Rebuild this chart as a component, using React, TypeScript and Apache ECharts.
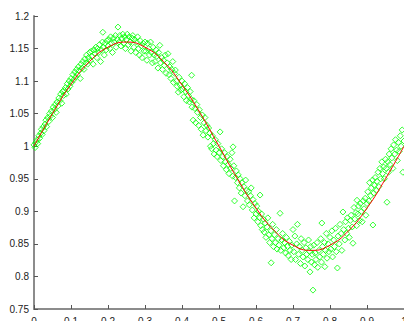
import React, { useEffect, useRef } from "react";
import * as echarts from "echarts";

const xTicks = { min: 0, max: 1, interval: 0.1 };
const yTicks = { min: 0.75, max: 1.2, interval: 0.05 };

const fitX = [0, 0.05, 0.1, 0.15, 0.2, 0.25, 0.3, 0.35, 0.4, 0.45, 0.5, 0.55, 0.6, 0.65, 0.7, 0.75, 0.8, 0.85, 0.9, 0.95, 1.0];
const fitY = [1.0, 1.05, 1.095, 1.13, 1.152, 1.16, 1.152, 1.13, 1.094, 1.05, 1.0, 0.95, 0.905, 0.87, 0.848, 0.84, 0.848, 0.87, 0.905, 0.95, 1.0];

const samples: [number, number][] = [
  [0.000,1.002],[0.003,0.998],[0.005,1.006],[0.008,1.010],[0.010,1.004],[0.013,1.016],[0.015,1.012],[0.018,1.020],[0.020,1.026],[0.022,1.018],[0.025,1.030],[0.027,1.024],[0.030,1.034],[0.032,1.040],[0.034,1.030],[0.037,1.044],[0.040,1.038],[0.042,1.050],[0.044,1.046],[0.047,1.054],[0.050,1.044],[0.052,1.060],[0.055,1.056],[0.057,1.064],[0.060,1.052],[0.062,1.068],[0.065,1.062],[0.067,1.074],[0.070,1.070],[0.072,1.080],[0.075,1.066],[0.077,1.084],[0.080,1.078],[0.082,1.086],[0.085,1.090],[0.087,1.080],[0.090,1.096],[0.092,1.088],[0.095,1.100],[0.097,1.092],[0.100,1.104],
  [0.102,1.098],[0.105,1.110],[0.107,1.102],[0.110,1.114],[0.112,1.106],[0.115,1.118],[0.117,1.110],[0.120,1.122],[0.122,1.116],[0.125,1.104],[0.127,1.126],[0.130,1.120],[0.132,1.130],[0.135,1.118],[0.137,1.134],[0.140,1.128],[0.142,1.140],[0.145,1.126],[0.147,1.136],[0.150,1.144],[0.152,1.132],[0.155,1.146],[0.157,1.138],[0.160,1.126],[0.162,1.148],[0.165,1.142],[0.167,1.152],[0.170,1.136],[0.172,1.150],[0.175,1.144],[0.177,1.156],[0.180,1.130],[0.182,1.148],[0.185,1.160],[0.186,1.175],[0.188,1.152],[0.190,1.140],[0.192,1.158],[0.195,1.148],[0.197,1.162],[0.200,1.154],
  [0.202,1.164],[0.205,1.150],[0.207,1.168],[0.210,1.158],[0.212,1.144],[0.215,1.166],[0.217,1.160],[0.220,1.170],[0.222,1.152],[0.225,1.164],[0.227,1.183],[0.230,1.160],[0.232,1.170],[0.235,1.154],[0.237,1.166],[0.240,1.172],[0.242,1.158],[0.245,1.168],[0.247,1.150],[0.250,1.164],[0.252,1.172],[0.255,1.156],[0.257,1.168],[0.260,1.160],[0.262,1.146],[0.265,1.166],[0.267,1.170],[0.270,1.152],[0.272,1.164],[0.275,1.144],[0.277,1.160],[0.280,1.168],[0.282,1.150],[0.285,1.140],[0.287,1.162],[0.290,1.154],[0.292,1.136],[0.295,1.158],[0.297,1.146],[0.300,1.160],
  [0.302,1.146],[0.305,1.132],[0.307,1.158],[0.310,1.150],[0.312,1.140],[0.315,1.160],[0.317,1.144],[0.320,1.128],[0.322,1.152],[0.325,1.140],[0.327,1.130],[0.330,1.148],[0.332,1.138],[0.335,1.120],[0.337,1.144],[0.340,1.155],[0.342,1.128],[0.345,1.136],[0.347,1.118],[0.350,1.132],[0.352,1.124],[0.355,1.140],[0.357,1.112],[0.360,1.128],[0.362,1.142],[0.365,1.110],[0.367,1.122],[0.370,1.104],[0.372,1.118],[0.375,1.130],[0.377,1.098],[0.380,1.112],[0.382,1.117],[0.385,1.100],[0.387,1.092],[0.390,1.083],[0.392,1.106],[0.395,1.094],[0.397,1.086],[0.400,1.100],
  [0.402,1.088],[0.405,1.076],[0.407,1.096],[0.410,1.084],[0.412,1.070],[0.415,1.090],[0.417,1.078],[0.420,1.068],[0.422,1.084],[0.425,1.072],[0.426,1.109],[0.427,1.060],[0.430,1.040],[0.432,1.070],[0.435,1.058],[0.437,1.036],[0.440,1.064],[0.442,1.052],[0.445,1.032],[0.447,1.056],[0.450,1.044],[0.452,1.026],[0.455,1.048],[0.457,1.017],[0.460,1.036],[0.462,1.044],[0.465,1.024],[0.467,1.032],[0.470,1.014],[0.472,1.028],[0.475,1.020],[0.477,1.000],[0.480,0.996],[0.482,1.016],[0.485,1.004],[0.487,0.988],[0.490,1.010],[0.492,0.994],[0.495,0.984],[0.497,1.004],[0.500,0.990],[0.503,1.022],
  [0.505,0.978],[0.507,0.996],[0.510,0.984],[0.512,0.970],[0.515,0.990],[0.517,0.976],[0.520,0.964],[0.522,0.984],[0.525,0.972],[0.527,0.958],[0.530,0.980],[0.532,0.966],[0.535,0.990],[0.537,0.954],[0.538,0.999],[0.540,0.970],[0.542,0.916],[0.545,0.952],[0.547,0.962],[0.550,0.944],[0.552,0.956],[0.555,0.936],[0.557,0.950],[0.560,0.928],[0.562,0.944],[0.565,0.907],[0.567,0.938],[0.570,0.924],[0.572,0.948],[0.575,0.932],[0.577,0.916],[0.580,0.930],[0.582,0.910],[0.585,0.924],[0.587,0.936],[0.590,0.902],[0.592,0.918],[0.595,0.890],[0.597,0.912],[0.600,0.896],
  [0.602,0.908],[0.605,0.884],[0.607,0.900],[0.610,0.890],[0.611,0.925],[0.613,0.878],[0.615,0.896],[0.617,0.872],[0.620,0.888],[0.622,0.868],[0.625,0.882],[0.627,0.860],[0.630,0.876],[0.632,0.890],[0.635,0.864],[0.637,0.852],[0.640,0.870],[0.641,0.821],[0.643,0.858],[0.645,0.880],[0.647,0.846],[0.650,0.864],[0.652,0.852],[0.655,0.872],[0.657,0.842],[0.660,0.858],[0.662,0.848],[0.665,0.897],[0.667,0.840],[0.670,0.856],[0.672,0.866],[0.675,0.844],[0.677,0.852],[0.680,0.836],[0.682,0.860],[0.685,0.846],[0.687,0.832],[0.690,0.854],[0.692,0.840],[0.695,0.826],[0.697,0.848],[0.700,0.872],
  [0.702,0.838],[0.705,0.862],[0.707,0.826],[0.710,0.850],[0.712,0.880],[0.715,0.834],[0.717,0.846],[0.720,0.820],[0.722,0.858],[0.725,0.840],[0.727,0.830],[0.730,0.852],[0.732,0.816],[0.735,0.844],[0.737,0.834],[0.740,0.826],[0.742,0.856],[0.745,0.838],[0.746,0.807],[0.748,0.846],[0.750,0.822],[0.752,0.834],[0.754,0.779],[0.756,0.848],[0.758,0.818],[0.760,0.836],[0.762,0.826],[0.765,0.852],[0.767,0.814],[0.770,0.840],[0.772,0.830],[0.775,0.858],[0.777,0.822],[0.778,0.882],[0.780,0.846],[0.782,0.834],[0.785,0.852],[0.786,0.815],[0.788,0.840],[0.790,0.866],[0.792,0.828],[0.795,0.850],[0.797,0.838],[0.800,0.860],
  [0.802,0.842],[0.805,0.870],[0.807,0.830],[0.810,0.856],[0.812,0.846],[0.815,0.874],[0.817,0.838],[0.820,0.813],[0.822,0.862],[0.825,0.850],[0.827,0.880],[0.830,0.866],[0.832,0.840],[0.835,0.899],[0.837,0.872],[0.840,0.856],[0.842,0.884],[0.845,0.866],[0.847,0.890],[0.850,0.874],[0.852,0.860],[0.855,0.886],[0.857,0.894],[0.860,0.876],[0.862,0.851],[0.865,0.906],[0.867,0.888],[0.870,0.898],[0.872,0.878],[0.873,0.917],[0.875,0.896],[0.877,0.908],[0.880,0.886],[0.882,0.912],[0.885,0.900],[0.887,0.884],[0.890,0.916],[0.892,0.904],[0.895,0.920],[0.897,0.894],[0.900,0.912],
  [0.902,0.930],[0.905,0.916],[0.907,0.944],[0.910,0.924],[0.912,0.936],[0.915,0.948],[0.916,0.879],[0.918,0.928],[0.920,0.940],[0.922,0.952],[0.925,0.932],[0.927,0.946],[0.930,0.960],[0.932,0.938],[0.935,0.966],[0.937,0.950],[0.940,0.976],[0.942,0.958],[0.945,0.968],[0.947,0.950],[0.950,0.980],[0.952,0.966],[0.954,0.914],[0.956,0.976],[0.958,0.960],[0.960,0.988],[0.962,0.972],[0.965,0.996],[0.967,0.982],[0.970,0.966],[0.972,1.002],[0.975,0.988],[0.977,1.010],[0.980,0.994],[0.982,0.978],[0.985,1.006],[0.987,0.992],[0.990,1.016],[0.992,1.000],[0.995,1.025],[0.997,0.960],[1.000,1.008],
];

export default function App() {
  const ref = useRef<HTMLDivElement>(null);
  useEffect(() => {
    if (!ref.current) return;
    const chart = echarts.init(ref.current, undefined, { renderer: "svg" });
    const axisCommon = {
      axisLine: { show: true, onZero: false, lineStyle: { color: "#8c8c8c", width: 2 } },
      axisTick: { show: true, inside: true, length: 4, lineStyle: { color: "#555", width: 1 } },
      splitLine: { show: false },
      axisLabel: { color: "#222", fontSize: 10, fontFamily: "Liberation Sans, Arial, sans-serif" },
    };
    chart.setOption({
      animation: false,
      backgroundColor: "#ffffff",
      grid: { left: 34, top: 16, width: 370, height: 293, containLabel: false, outerBoundsMode: "none" },
      xAxis: {
        type: "value",
        min: xTicks.min,
        max: xTicks.max,
        interval: xTicks.interval,
        ...axisCommon,
        axisLabel: { ...axisCommon.axisLabel, margin: 7 },
      },
      yAxis: {
        type: "value",
        min: yTicks.min,
        max: yTicks.max,
        interval: yTicks.interval,
        ...axisCommon,
        axisLabel: { ...axisCommon.axisLabel, margin: 5 },
      },
      series: [
        {
          type: "scatter",
          data: samples,
          symbol: "diamond",
          symbolSize: 6,
          itemStyle: { color: "rgba(0,0,0,0)", borderColor: "#00ff00", borderWidth: 1 },
          z: 2,
        },
        {
          type: "line",
          data: fitX.map((x, i) => [x, fitY[i]]),
          smooth: true,
          showSymbol: false,
          lineStyle: { color: "#ff0000", width: 1 },
          z: 3,
        },
      ],
    });
    return () => chart.dispose();
  }, []);
  return (
    <div
      ref={ref}
      style={{ position: "fixed", left: 0, top: 0, width: 404, height: 321, background: "#fff" }}
    />
  );
}
